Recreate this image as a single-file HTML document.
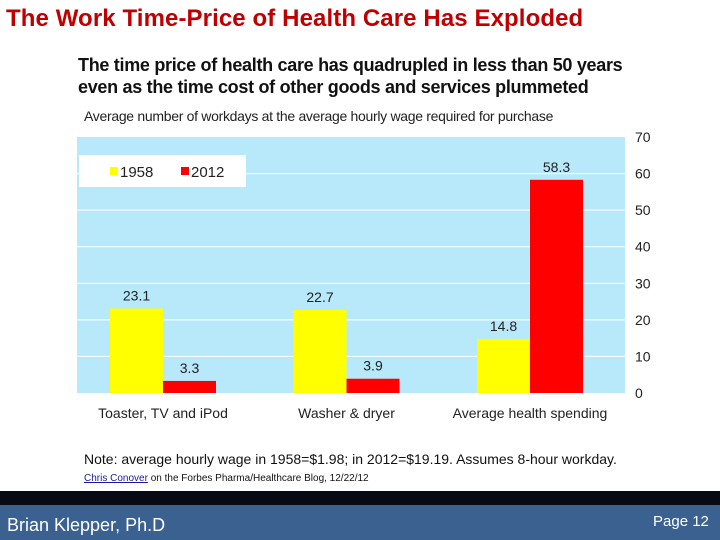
<!DOCTYPE html>
<html><head><meta charset="utf-8"><style>
body{margin:0;width:720px;height:540px;background:#fff;position:relative;overflow:hidden;font-family:"Liberation Sans",sans-serif}
.abs{position:absolute}
</style></head><body>
<div class="abs" style="left:6px;top:5px;font-size:24px;font-weight:bold;color:#c00000;letter-spacing:0.1px">The Work Time-Price of Health Care Has Exploded</div>
<div class="abs" style="left:78px;top:54px;font-size:18px;font-weight:bold;color:#111;line-height:22px;letter-spacing:-0.3px">The time price of health care has quadrupled in less than 50 years<br>even as the time cost of other goods and services plummeted</div>
<div class="abs" style="left:84px;top:108px;font-size:14px;color:#222;letter-spacing:-0.3px">Average number of workdays at the average hourly wage required for purchase</div>
<svg class="abs" style="left:0;top:0" width="720" height="540" id="chart"></svg>
<div class="abs" style="left:84px;top:451px;font-size:14px;color:#111">Note: average hourly wage in 1958=$1.98; in 2012=$19.19. Assumes 8-hour workday.</div>
<div class="abs" style="left:84px;top:473px;font-size:10px;color:#111"><span style="color:#1a1aa0;text-decoration:underline">Chris Conover</span> on the Forbes Pharma/Healthcare Blog, 12/22/12</div>
<div class="abs" style="left:0;top:491px;width:720px;height:14px;background:#050a14"></div>
<div class="abs" style="left:0;top:505px;width:720px;height:35px;background:#3a6190"></div>
<div class="abs" style="left:7px;top:515px;font-size:18px;color:#fff">Brian Klepper, Ph.D</div>
<div class="abs" style="left:653px;top:513px;font-size:15px;color:#fff">Page 12</div>
<script>
const categories=["Toaster, TV and iPod","Washer & dryer","Average health spending"];
const values1958=[23.1,22.7,14.8];
const values2012=[3.3,3.9,58.3];
const yTicks=[0,10,20,30,40,50,60,70];
const svg=document.getElementById('chart');
const NS='http://www.w3.org/2000/svg';
const L=77,R=625,T=137,B=393,yMax=70;
const y=v=>B-(v/yMax)*(B-T);
const gx=i=>163+i*183.5;
function mk(tag,a){const e=document.createElementNS(NS,tag);for(const k in a)e.setAttribute(k,a[k]);svg.appendChild(e);return e;}
const bg=mk('rect',{x:L,y:T,width:R-L,height:B-T,fill:'#b7e9fb'});


yTicks.forEach(t=>{
  if(t>0&&t<70){const g=mk('line',{x1:L,x2:R,y1:y(t),y2:y(t),stroke:'#fff','stroke-width':1});
  
  }
  const tx=mk('text',{x:635,y:y(t)+5,'font-size':14,fill:'#222','font-family':'Liberation Sans, sans-serif'});
  tx.textContent=t;
  
  
});
const bw=53;
categories.forEach((c,i)=>{
  const cx=gx(i);
  const b1=mk('rect',{x:cx-bw,y:y(values1958[i]),width:bw,height:B-y(values1958[i]),fill:'#ffff00'});
  
  
  const b2=mk('rect',{x:cx,y:y(values2012[i]),width:bw,height:B-y(values2012[i]),fill:'#ff0000'});
  
  
  const l1=mk('text',{x:cx-bw/2,y:y(values1958[i])-8,'font-size':14,'text-anchor':'middle',fill:'#222'});
  l1.textContent=values1958[i].toFixed(1);
  
  
  const l2=mk('text',{x:cx+bw/2,y:y(values2012[i])-8,'font-size':14,'text-anchor':'middle',fill:'#222'});
  l2.textContent=values2012[i].toFixed(1);
  
  
  const cl=mk('text',{x:cx,y:418,'font-size':14,'text-anchor':'middle',fill:'#222'});
  cl.textContent=c;
  
  
});
const leg=mk('rect',{x:79,y:155,width:167,height:32,fill:'#fff'});


[['#ffff00','1958',110],['#ff0000','2012',181]].forEach(([col,lab,x])=>{
  const s=mk('rect',{x:x,y:167,width:8,height:8,fill:col});
  
  
  const t=mk('text',{x:x+10,y:177,'font-size':15,fill:'#222'});
  t.textContent=lab;
  
  
});
</script>
</body></html>
